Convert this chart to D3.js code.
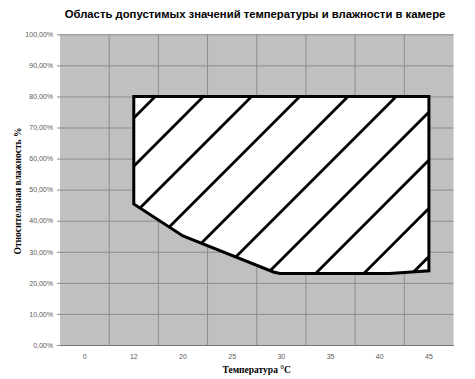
<!DOCTYPE html>
<html>
<head>
<meta charset="utf-8">
<script src="https://cdn.jsdelivr.net/npm/d3@7"></script>
<style>
body { margin: 0; background: #fff; }
svg { display: block; }
</style>
</head>
<body>
<div id="main"></div>
<script>
var outerWidth = 475;
var outerHeight = 379;

var marginLeft = 60;
var marginTop = 34.3;
var marginRight = 21.5;
var marginBottom = 34;

var innerWidth = outerWidth - marginLeft - marginRight;
var innerHeight = outerHeight - marginTop - marginBottom;

var titleText = "Область допустимых значений температуры и влажности в камере";
var xLabelText = "Температура °C";
var yLabelText = "Относительная влажность %";

// categories on the x axis
var temps = ["0", "12", "20", "25", "30", "35", "40", "45"];
var yTicks = [0, 0.1, 0.2, 0.3, 0.4, 0.5, 0.6, 0.7, 0.8, 0.9, 1.0];

// outline of the allowed zone: position along the category axis, humidity
var zoneX = [1, 7, 7, 6.2, 3.97, 3.84, 2, 1];
var zoneH = [0.80, 0.80, 0.239, 0.23, 0.23, 0.235, 0.351, 0.454];

var xBand = d3.scaleBand().domain(temps).range([0, innerWidth]);
var xPos = d3.scaleLinear().domain([-0.5, temps.length - 0.5]).range([0, innerWidth]);
var yScale = d3.scaleLinear().domain([0, 1]).range([innerHeight, 0]);

var fmt = function(v) { return d3.format(".2f")(v * 100).replace(".", ",") + "%"; };

var svg = d3.select("#main")
    .append("svg")
    .attr("width", outerWidth)
    .attr("height", outerHeight);

svg.append("text")
    .attr("x", 255)
    .attr("y", 18)
    .attr("text-anchor", "middle")
    .style("font-family", "Liberation Sans, Arial, sans-serif")
    .style("font-weight", "bold")
    .style("font-size", "11.3px")
    .text(titleText);

var g = svg.append("g")
    .attr("transform", "translate(" + marginLeft + "," + marginTop + ")");

g.append("rect")
    .attr("width", innerWidth)
    .attr("height", innerHeight)
    .attr("fill", "#c0c0c0");

// horizontal gridlines + y axis
var yAxis = d3.axisLeft(yScale)
    .tickValues(yTicks)
    .tickSize(-innerWidth)
    .tickPadding(7)
    .tickFormat(fmt);

var yAxisG = g.append("g").attr("class", "y axis").call(yAxis);
yAxisG.select(".domain").remove();
yAxisG.selectAll(".tick line")
    .attr("x1", -3)
    .attr("stroke", "#8c8c8c");
yAxisG.selectAll(".tick text")
    .attr("fill", "#595959")
    .style("font-family", "Liberation Sans, Arial, sans-serif")
    .style("font-size", "7px");

// vertical gridlines at category boundaries
var bounds = d3.range(1, temps.length).map(function(i) { return i * xBand.step(); });
g.selectAll(".vgrid").data(bounds).enter()
    .append("line")
    .attr("class", "vgrid")
    .attr("x1", function(d) { return d; })
    .attr("x2", function(d) { return d; })
    .attr("y1", 0)
    .attr("y2", innerHeight)
    .attr("stroke", "#8c8c8c");

var xAxis = d3.axisBottom(xBand).tickSize(0).tickPadding(9);
var xAxisG = g.append("g")
    .attr("class", "x axis")
    .attr("transform", "translate(0," + innerHeight + ")")
    .call(xAxis);
xAxisG.select(".domain").attr("stroke", "#777");
xAxisG.selectAll(".tick text")
    .attr("fill", "#595959")
    .style("font-family", "Liberation Sans, Arial, sans-serif")
    .style("font-size", "7px");

// zone polygon
var pts = zoneX.map(function(d, i) { return [xPos(d), yScale(zoneH[i])]; });
var zoneLine = d3.line().curve(d3.curveLinearClosed);

g.append("clipPath").attr("id", "zoneClip")
    .append("path").attr("d", zoneLine(pts));

g.append("path")
    .attr("d", zoneLine(pts))
    .attr("fill", "#fff");

// diagonal hatching, 45 degrees, clipped to the zone
var hatchStart = 251.7 - marginLeft - marginTop;
var hatchStep = 48.2;
var hatch = d3.range(0, 12).map(function(i) { return hatchStart + i * hatchStep; });
g.append("g").attr("clip-path", "url(#zoneClip)")
    .selectAll("line").data(hatch).enter()
    .append("line")
    .attr("x1", function(c) { return c; })
    .attr("y1", 0)
    .attr("x2", function(c) { return c - innerHeight; })
    .attr("y2", innerHeight)
    .attr("stroke", "#000")
    .attr("stroke-width", 2.8);

g.append("path")
    .attr("d", zoneLine(pts))
    .attr("fill", "none")
    .attr("stroke", "#000")
    .attr("stroke-width", 3)
    .attr("stroke-linejoin", "miter");

svg.append("text")
    .attr("x", 256.7)
    .attr("y", 373)
    .attr("text-anchor", "middle")
    .style("font-family", "Liberation Serif, Times New Roman, serif")
    .style("font-weight", "bold")
    .style("font-size", "9.5px")
    .text(xLabelText);

svg.append("text")
    .attr("transform", "translate(21,191) rotate(-90)")
    .attr("text-anchor", "middle")
    .style("font-family", "Liberation Serif, Times New Roman, serif")
    .style("font-weight", "bold")
    .style("font-size", "9.5px")
    .text(yLabelText);
</script>
</body>
</html>
